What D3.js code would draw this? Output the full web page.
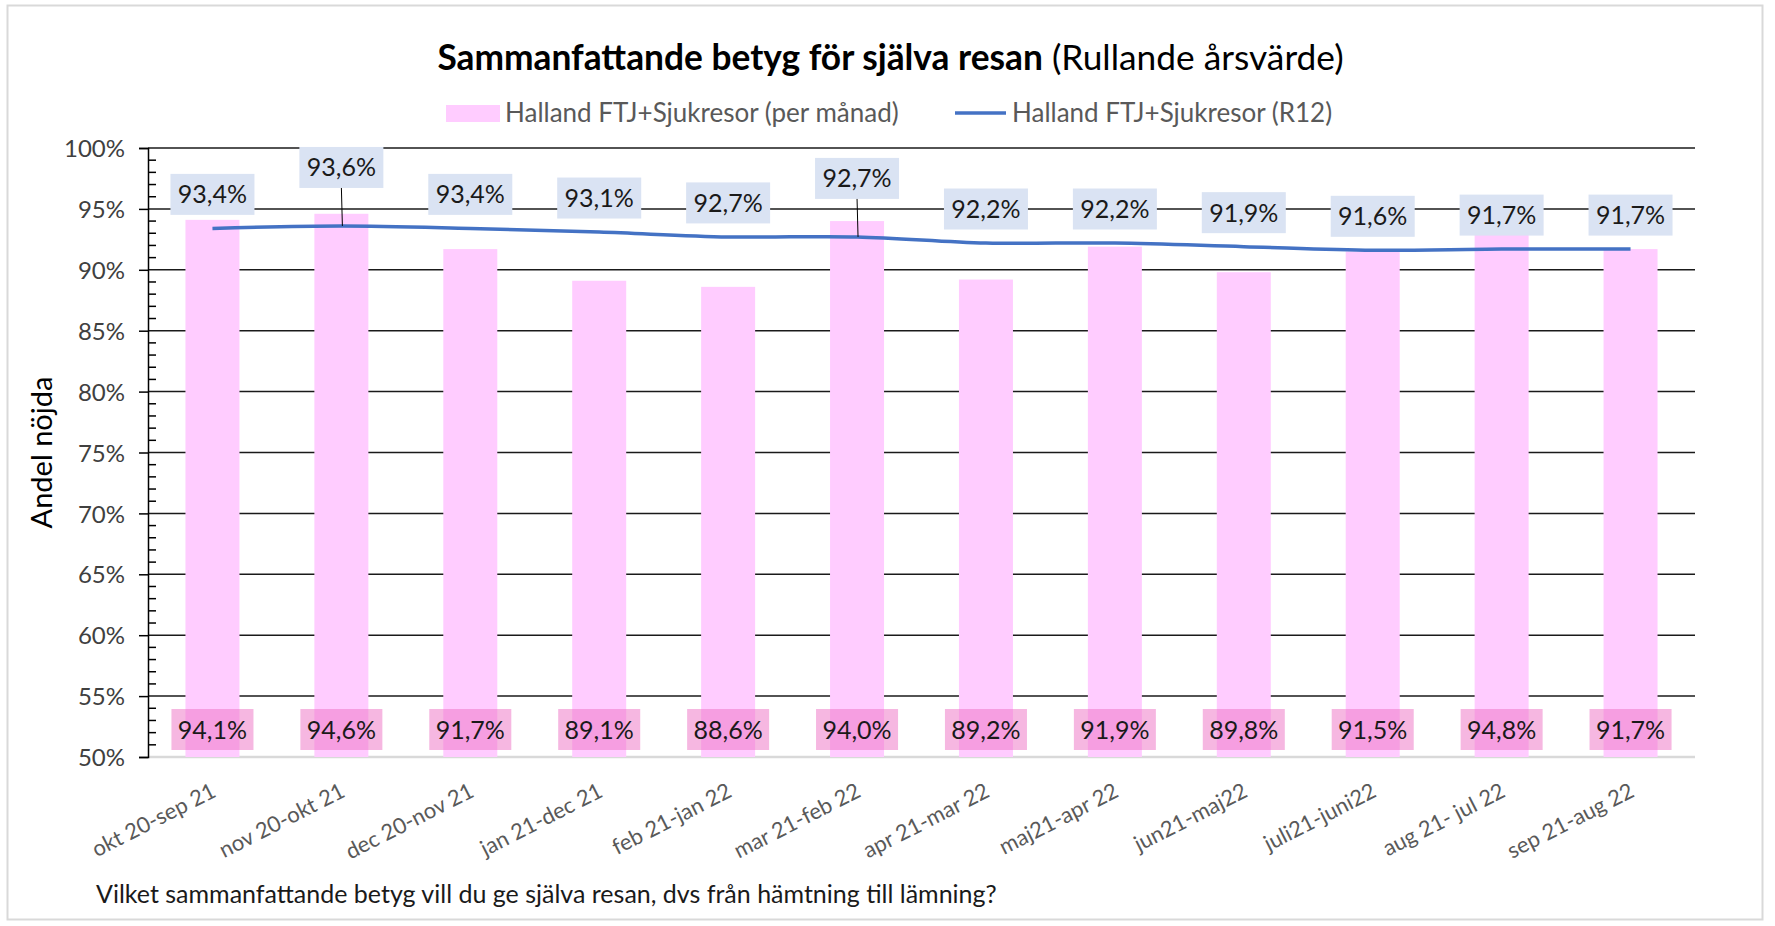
<!DOCTYPE html>
<html>
<head>
<meta charset="utf-8">
<script src="https://cdn.jsdelivr.net/npm/d3@7"></script>
<style>
  body { margin: 0; background: #fff; }
  text { font-family: Lato, "Open Sans", sans-serif; }
</style>
</head>
<body>
<div id="container"></div>
<script>
// chart data
let categories = ["okt 20-sep 21", "nov 20-okt 21", "dec 20-nov 21", "jan 21-dec 21", "feb 21-jan 22", "mar 21-feb 22",
  "apr 21-mar 22", "maj21-apr 22", "jun21-maj22", "juli21-juni22", "aug 21- jul 22", "sep 21-aug 22"];
let perMonth = [94.1, 94.6, 91.7, 89.1, 88.6, 94.0, 89.2, 91.9, 89.8, 91.5, 94.8, 91.7];
let rolling = [93.4, 93.6, 93.4, 93.1, 92.7, 92.7, 92.2, 92.2, 91.9, 91.6, 91.7, 91.7];
let yTicks = [50, 55, 60, 65, 70, 75, 80, 85, 90, 95, 100];
let barSeriesName = "Halland FTJ+Sjukresor (per månad)";
let lineSeriesName = "Halland FTJ+Sjukresor (R12)";

///////////////////////////

let w = 1775;
let h = 926;
let plotLeft = 148, plotRight = 1695, plotTop = 148, plotBottom = 757;
let barColor = "#ffccff";
let lineColor = "#4472c4";
let raisedLabels = [1, 5]; // labels pushed up with a leader line

let fmt = v => d3.format(".1f")(v).replace(".", ",") + "%";

let viz = d3.select("#container").append("svg")
    .attr("width", w)
    .attr("height", h)
    .style("background-color", "white");

// outer frame
viz.append("rect")
  .attr("x", 7.5).attr("y", 5.5)
  .attr("width", 1755).attr("height", 914)
  .attr("fill", "none")
  .attr("stroke", "#d9d9d9")
  .attr("stroke-width", 2);

let xScale = d3.scaleBand().domain(categories).range([plotLeft, plotRight]);
let yScale = d3.scaleLinear().domain([50, 100]).range([plotBottom, plotTop]);

function xCenter(i) {
  return xScale(categories[i]) + xScale.bandwidth() / 2;
}

// gridlines
viz.append("g").selectAll("line").data(yTicks)
  .enter().append("line")
    .attr("x1", plotLeft).attr("x2", plotRight)
    .attr("y1", d => yScale(d)).attr("y2", d => yScale(d))
    .attr("stroke", d => d === 50 ? "#d9d9d9" : "#1a1a1a")
    .attr("stroke-width", d => d === 50 ? 2.5 : 1.5);

// y axis with outer major ticks
let yAxis = d3.axisLeft(yScale)
  .tickValues(yTicks)
  .tickSize(9)
  .tickPadding(14)
  .tickFormat(d => d + "%");

let yAxisG = viz.append("g")
  .attr("transform", "translate(" + plotLeft + ",0)")
  .call(yAxis);
yAxisG.select(".domain").attr("stroke", "#000").attr("stroke-width", 1.5);
yAxisG.selectAll(".tick line").attr("stroke", "#000").attr("stroke-width", 1.5);
yAxisG.selectAll(".tick text")
  .attr("font-size", 24)
  .attr("font-family", "Lato")
  .attr("fill", "#404040")
  .attr("dy", "0.36em");

// minor ticks on the inside
let minor = d3.range(50, 100, 1).filter(v => v % 5 !== 0);
viz.append("g").selectAll("line").data(minor)
  .enter().append("line")
    .attr("x1", plotLeft).attr("x2", plotLeft + 8)
    .attr("y1", d => yScale(d)).attr("y2", d => yScale(d))
    .attr("stroke", "#000").attr("stroke-width", 1.5);

// bars
let barW = 54;
viz.append("g").selectAll("rect").data(perMonth)
  .enter().append("rect")
    .attr("x", (d, i) => xCenter(i) - barW / 2)
    .attr("y", d => yScale(d))
    .attr("width", barW)
    .attr("height", d => yScale(50) - yScale(d))
    .attr("fill", barColor);

// bar value labels at bottom
let barLabels = viz.append("g").selectAll("g").data(perMonth)
  .enter().append("g")
    .attr("transform", (d, i) => "translate(" + xCenter(i) + ",729.5)");
barLabels.append("rect")
  .attr("x", -41).attr("y", -20.5)
  .attr("width", 82).attr("height", 41)
  .attr("fill", "rgb(238,112,196)")
  .attr("opacity", 0.5);
barLabels.append("text")
  .attr("text-anchor", "middle")
  .attr("dy", "0.36em")
  .attr("font-size", 25)
  .attr("fill", "#1a1a1a")
  .text(d => fmt(d));

// rolling line
let line = d3.line()
  .x((d, i) => xCenter(i))
  .y(d => yScale(d))
  .curve(d3.curveCatmullRom);

viz.append("path")
  .datum(rolling)
  .attr("d", line)
  .attr("fill", "none")
  .attr("stroke", lineColor)
  .attr("stroke-width", 3.5);

// rolling labels
let lineLabels = viz.append("g").selectAll("g").data(rolling)
  .enter().append("g")
    .attr("transform", (d, i) => {
      let off = raisedLabels.includes(i) ? 58.5 : 34;
      return "translate(" + xCenter(i) + "," + (yScale(d) - off) + ")";
    });
lineLabels.filter((d, i) => raisedLabels.includes(i))
  .append("line")
    .attr("x1", 0).attr("y1", 20).attr("x2", 1).attr("y2", 58.5)
    .attr("stroke", "#000").attr("stroke-width", 1);
lineLabels.append("rect")
  .attr("x", -42).attr("y", -20.5)
  .attr("width", 84).attr("height", 41)
  .attr("fill", "#dae3f3");
lineLabels.append("text")
  .attr("text-anchor", "middle")
  .attr("dy", "0.36em")
  .attr("font-size", 25)
  .attr("fill", "#1a1a1a")
  .text(d => fmt(d));

// x labels, rotated
viz.append("g").selectAll("text").data(categories)
  .enter().append("text")
    .attr("transform", (d, i) => "translate(" + (xCenter(i) + 5) + ",796) rotate(-27)")
    .attr("text-anchor", "end")
    .attr("font-size", 22)
    .attr("fill", "#595959")
    .text(d => d);

// y title
viz.append("text")
  .attr("transform", "translate(52,452.5) rotate(-90)")
  .attr("text-anchor", "middle")
  .attr("font-size", 29)
  .attr("fill", "#000")
  .text("Andel nöjda");

// title
let title = viz.append("text")
  .attr("x", 890.5).attr("y", 70)
  .attr("text-anchor", "middle")
  .attr("font-size", 35.3)
  .attr("fill", "#000");
title.append("tspan").attr("font-weight", "bold").text("Sammanfattande betyg för själva resan");
title.append("tspan").text(" (Rullande årsvärde)");

// legend
viz.append("rect")
  .attr("x", 446).attr("y", 105)
  .attr("width", 54).attr("height", 17)
  .attr("fill", barColor);
viz.append("text")
  .attr("x", 505).attr("y", 122)
  .attr("font-size", 26)
  .attr("fill", "#595959")
  .text(barSeriesName);
viz.append("line")
  .attr("x1", 955).attr("x2", 1006)
  .attr("y1", 113).attr("y2", 113)
  .attr("stroke", lineColor).attr("stroke-width", 3.5);
viz.append("text")
  .attr("x", 1012).attr("y", 122)
  .attr("font-size", 26)
  .attr("fill", "#595959")
  .text(lineSeriesName);

// question footer
viz.append("text")
  .attr("x", 96).attr("y", 903)
  .attr("font-size", 25)
  .attr("fill", "#1a1a1a")
  .text("Vilket sammanfattande betyg vill du ge själva resan, dvs från hämtning till lämning?");
</script>
</body>
</html>
